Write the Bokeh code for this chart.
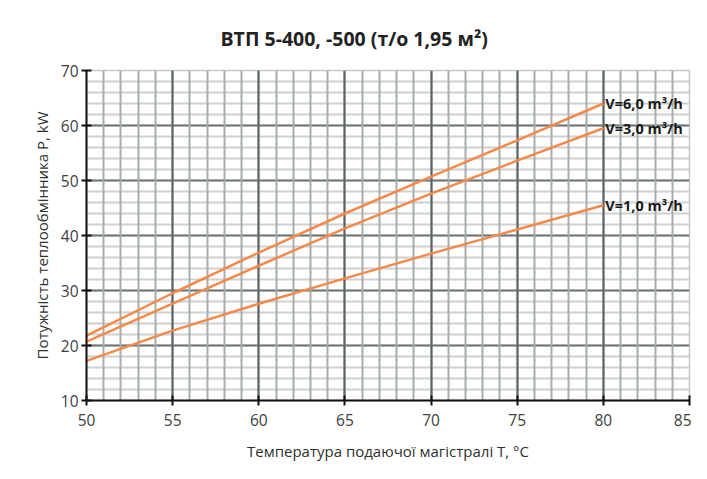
from bokeh.plotting import figure
from bokeh.models import SingleIntervalTicker, Title, ColumnDataSource
from bokeh.core.properties import value
from bokeh.embed import file_html
from bokeh.resources import INLINE

temps = [50, 55, 60, 65, 70, 75, 80]
p_v6 = [21.8, 29.5, 36.9, 44.0, 50.7, 57.3, 64.0]
p_v3 = [20.7, 27.6, 34.5, 41.3, 47.6, 53.6, 59.5]
p_v1 = [17.2, 22.7, 27.6, 32.2, 36.7, 41.1, 45.5]
series_labels = ["V=6,0 m³/h", "V=3,0 m³/h", "V=1,0 m³/h"]
title_text = "ВТП 5-400, -500 (т/о 1,95 м²)"
x_label = "Температура подаючої магістралі T, °C"
y_label = "Потужність теплообмінника P, kW"

FONT = "Open Sans"
ORANGE = "#f5894a"

p = figure(width=691, height=463, x_range=(50, 85), y_range=(10, 70),
           output_backend="svg", toolbar_location=None,
           min_border_left=86, min_border_right=2, min_border_top=70, min_border_bottom=63)
p.title = None
p.add_layout(Title(text=title_text, text_font=FONT, text_font_size="19.5px",
                   text_font_style="bold", text_color="#222222", align="left",
                   offset=134, standoff=38), "above")

p.xaxis.ticker = SingleIntervalTicker(interval=5, num_minor_ticks=5)
p.yaxis.ticker = SingleIntervalTicker(interval=10, num_minor_ticks=5)

for ax in (p.xaxis[0], p.yaxis[0]):
    ax.axis_line_color = "#111111"
    ax.axis_line_width = 2
    ax.major_tick_line_color = "#111111"
    ax.major_tick_line_width = 2
    ax.major_tick_in = 5
    ax.major_tick_out = 5
    ax.minor_tick_line_color = None
    ax.major_label_text_font = FONT
    ax.major_label_text_font_size = "15.5px"
    ax.major_label_text_color = "#404040"
    ax.axis_label_text_font = FONT
    ax.axis_label_text_font_size = "15px"
    ax.axis_label_text_font_style = "normal"
    ax.axis_label_text_color = "#303030"

p.xaxis.axis_label = x_label
p.yaxis.axis_label = y_label
p.xaxis.major_label_standoff = 8
p.xaxis.axis_label_standoff = 12
p.yaxis.major_label_standoff = 3
p.yaxis.axis_label_standoff = 6

p.xgrid.grid_line_color = "#5a6262"
p.xgrid.grid_line_width = 2
p.xgrid.minor_grid_line_color = "#a5adad"
p.xgrid.minor_grid_line_width = 2
p.ygrid.grid_line_color = "#6f7575"
p.ygrid.grid_line_width = 2
p.ygrid.minor_grid_line_color = "#cdd1d1"
p.ygrid.minor_grid_line_width = 2

# draw vertical grid lines on top of horizontal ones
xg, yg = p.xgrid[0], p.ygrid[0]
p.center = [yg, xg] + [r for r in p.center if r is not xg and r is not yg]

p.outline_line_color = "#c4c8c8"
p.outline_line_width = 1.5
p.background_fill_color = "white"
p.border_fill_color = "white"

for vals in (p_v6, p_v3, p_v1):
    p.line(temps, vals, line_color=ORANGE, line_width=2.5)

lab_src = ColumnDataSource(dict(x=[temps[-1]] * 3, y=[p_v6[-1], p_v3[-1], p_v1[-1]],
                                t=series_labels))
p.text(x="x", y="y", text="t", source=lab_src, x_offset=2, text_align="left",
       text_baseline="middle", text_font=value(FONT), text_font_size="14.5px",
       text_font_style="bold", text_color="#1a1a1a")

open("out.html", "w").write(file_html(p, INLINE))
